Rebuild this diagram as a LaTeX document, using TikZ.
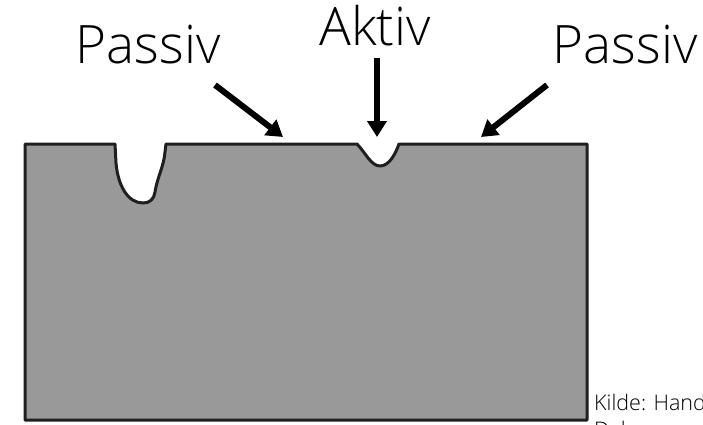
\documentclass[tikz,border=0pt]{standalone}
\usepackage{fontspec}
\setmainfont{Open Sans Light}
\usetikzlibrary{arrows.meta}
\begin{document}
\begin{tikzpicture}[x=1pt,y=-1pt,
  label/.style={font=\fontsize{53}{60}\selectfont, inner sep=0pt, anchor=base},
  pointer/.style={line width=6pt, -{Triangle[width=19pt,length=16pt]}},
  metal/.style={fill=black!40, draw=black!88, line width=3pt, line join=round}]
\useasboundingbox (0,0) rectangle (703,424);
\clip (0,0) rectangle (703,424);

% metal block with a passive pit and an active pit
\draw[metal] (25,144) -- (115,144) -- (116,163)
  .. controls (118,186) and (128,203) .. (143,203)
  .. controls (150,203) and (154,199) .. (155,192)
  .. controls (157,178) and (164,166) .. (165,152)
  -- (166,144) -- (357,144)
  .. controls (365,152) and (371,166) .. (380,166)
  .. controls (390,166) and (396,152) .. (399,144)
  -- (587,144) -- (587,420) -- (25,420) -- cycle;

% labels
\node[label] (p1) at (148,63) {Passiv};
\node[label] (ak) at (375,45) {Aktiv};
\node[label] (p2) at (625,63) {Passiv};

% arrow ends
\coordinate (s1) at (215,85);
\coordinate (t1) at (283,137);
\coordinate (s2) at (377,58);
\coordinate (t2) at (377,137);
\coordinate (s3) at (547,85);
\coordinate (t3) at (481,137);

\draw[pointer] (s1) -- (t1);
\draw[pointer] (s2) -- (t2);
\draw[pointer] (s3) -- (t3);

% source note (its last line sits on the given baseline)
\node[font=\fontsize{21.5}{27}\selectfont, anchor=base west, inner sep=0pt, align=left] (src) at (594,437) {Kilde: Handbook\\Dal};
\end{tikzpicture}
\end{document}
